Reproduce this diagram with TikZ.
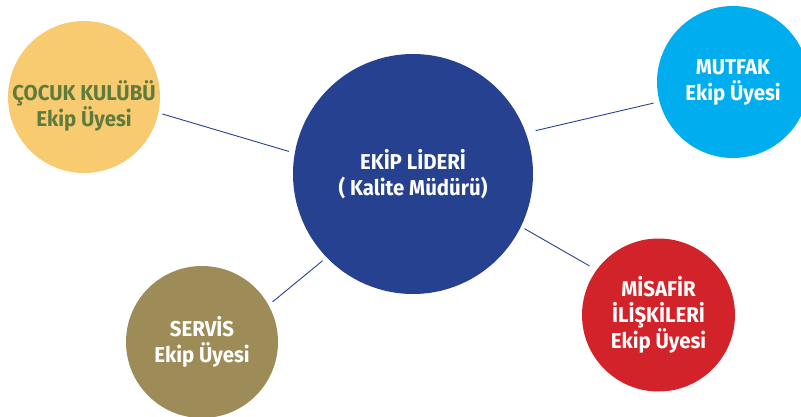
\documentclass[tikz,border=0pt]{standalone}
\usepackage{fontspec}
\setmainfont{Fira Sans}[FakeStretch=0.95]
\definecolor{leadblue}{HTML}{26418F}
\definecolor{kidsyellow}{HTML}{F8CB70}
\definecolor{kidsgreen}{HTML}{5E7A3C}
\definecolor{kitchenblue}{HTML}{00AEEF}
\definecolor{guestred}{HTML}{D2232A}
\definecolor{serviceolive}{HTML}{9E8C58}
\tikzset{
  member/.style={circle, inner sep=0pt, minimum size=152pt, text=white,
    align=center, font=\fontsize{21.5}{26}\selectfont\bfseries},
  link/.style={leadblue, line width=0.9pt, shorten <=5pt, shorten >=5pt}
}

\begin{document}
\begin{tikzpicture}[x=1pt, y=-1pt]
    \useasboundingbox (0, 0) rectangle (801, 417);
    \clip (0, 0) rectangle (801, 417);
    % team leader in the middle
    \node[member, fill=leadblue, minimum size=240pt] (lead) at (413, 174)
        {EK\.IP L\.IDER\.I\\( Kalite Müdürü)};
    % team members
    \node[member, fill=kidsyellow] (kids) at (84, 97) {};
    \node[member, text=kidsgreen] (kidstxt) at (84, 106)
        {ÇOCUK KULÜBÜ\\Ekip Üyesi};
    \node[member, fill=kitchenblue] (kitchen) at (733, 82) {MUTFAK\\Ekip Üyesi};
    \node[member, fill=guestred, minimum size=153pt] (guest) at (658.5, 315)
        {M\.ISAF\.IR\\\.IL\.IŞK\.ILER\.I\\Ekip Üyesi};
    \node[member, fill=serviceolive] (service) at (202, 342) {SERV\.IS\\Ekip Üyesi};
    % connectors
    \draw[link, shorten <=4pt, shorten >=6pt] (kids.-12) -- (lead.170);
    \draw[link, shorten <=10pt, shorten >=6pt] (lead.20) -- (kitchen.-165);
    \draw[link, shorten <=4pt, shorten >=8pt] (lead.-26) -- (guest.144);
    \draw[link] (service.29) -- (lead.-136);
\end{tikzpicture}
\end{document}
